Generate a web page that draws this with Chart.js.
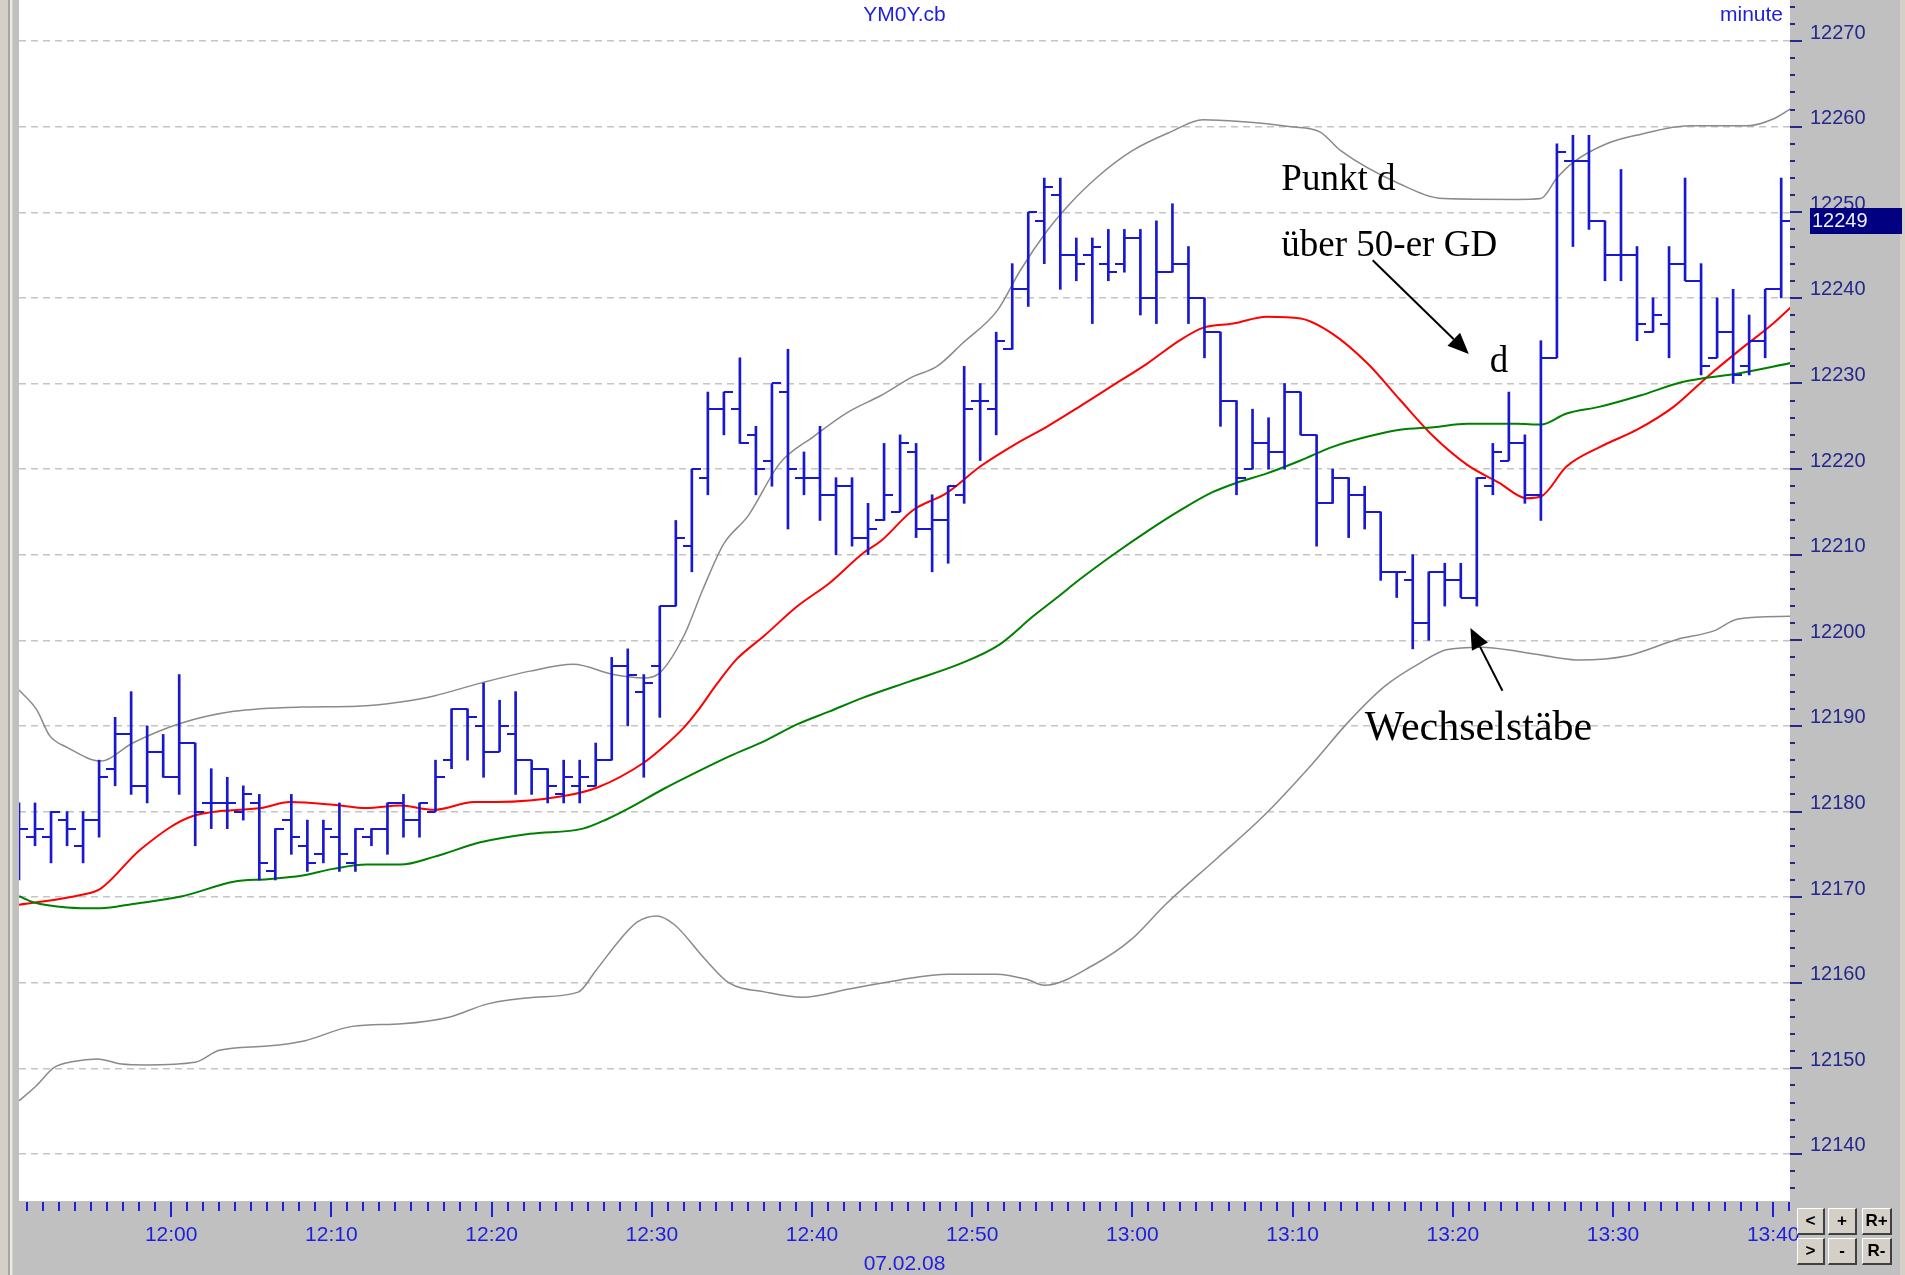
<!DOCTYPE html>
<html>
<head>
<meta charset="utf-8">
<script src="https://cdn.jsdelivr.net/npm/chart.js@4.4.1/dist/chart.umd.min.js"></script>
<style>
  body { margin: 0; background: #c0c0c0; }
  #wrap { position: relative; width: 1905px; height: 1275px; }
  .btn {
    position: absolute; box-sizing: border-box; height: 27px;
    background: #d4d0c8; color: #000;
    border-top: 1px solid #ffffff; border-left: 1px solid #ffffff;
    border-right: 2px solid #404040; border-bottom: 2px solid #404040;
    font: bold 17px "Liberation Sans", Arial, sans-serif;
    text-align: center; line-height: 23px;
  }
</style>
</head>
<body>
<div id="wrap">
  <canvas id="chart" width="1905" height="1275"></canvas>
  <div class="btn" style="left:1797px;top:1208px;width:28px">&lt;</div>
  <div class="btn" style="left:1828px;top:1208px;width:29px">+</div>
  <div class="btn" style="left:1862px;top:1208px;width:30px">R+</div>
  <div class="btn" style="left:1797px;top:1238px;width:28px">&gt;</div>
  <div class="btn" style="left:1828px;top:1238px;width:29px">-</div>
  <div class="btn" style="left:1862px;top:1238px;width:30px">R-</div>
</div>
<script>
const symbol = 'YM0Y.cb';
const period = 'minute';
const sessionDate = '07.02.08';
const firstBar = '11:50'; // start of the first one-minute bar
const timeLabels = ['12:00', '12:10', '12:20', '12:30', '12:40', '12:50',
    '13:00', '13:10', '13:20', '13:30', '13:40'];

// one-minute bars, 11:50 - 13:41
const opens = [12177, 12177, 12177, 12179, 12176, 12179, 12185, 12189, 12183, 12187,
    12184, 12188, 12181, 12181, 12180, 12181, 12173, 12179, 12176, 12175,
    12177, 12174, 12177, 12178, 12181, 12179, 12180, 12186, 12192, 12190,
    12187, 12189, 12186, 12185, 12182, 12183, 12183, 12186, 12197, 12194,
    12197, 12204, 12211, 12219, 12227, 12227, 12224, 12221, 12229, 12219,
    12219, 12217, 12218, 12212, 12214, 12215, 12222, 12213, 12214, 12217,
    12228, 12227, 12234, 12241, 12249, 12252, 12245, 12245, 12244, 12244,
    12247, 12240, 12243, 12244, 12240, 12236, 12228, 12220, 12223, 12222,
    12229, 12224, 12216, 12219, 12217, 12215, 12208, 12207, 12202, 12208,
    12207, 12205, 12218, 12221, 12223, 12217, 12233, 12256, 12256, 12249,
    12245, 12245, 12236, 12237, 12244, 12242, 12233, 12236, 12232, 12235,
    12241];
const highs = [12181, 12181, 12180, 12180, 12180, 12186, 12191, 12194, 12190, 12189,
    12196, 12188, 12185, 12184, 12183, 12182, 12178, 12182, 12179, 12179,
    12181, 12178, 12178, 12181, 12182, 12181, 12186, 12192, 12192, 12195,
    12193, 12194, 12186, 12185, 12186, 12186, 12188, 12198, 12199, 12196,
    12204, 12214, 12220, 12229, 12229, 12233, 12225, 12230, 12234, 12222,
    12225, 12219, 12219, 12216, 12223, 12224, 12223, 12217, 12218, 12232,
    12230, 12236, 12244, 12250, 12254, 12254, 12247, 12247, 12248, 12248,
    12248, 12249, 12251, 12246, 12240, 12236, 12228, 12227, 12226, 12230,
    12229, 12224, 12220, 12219, 12218, 12215, 12208, 12210, 12208, 12209,
    12209, 12219, 12223, 12229, 12224, 12235, 12258, 12259, 12259, 12249,
    12255, 12246, 12240, 12246, 12254, 12244, 12240, 12241, 12238, 12241,
    12254];
const lows = [12172, 12176, 12174, 12176, 12174, 12177, 12183, 12182, 12181, 12184,
    12182, 12176, 12178, 12178, 12179, 12172, 12172, 12175, 12173, 12174,
    12173, 12173, 12176, 12175, 12177, 12177, 12180, 12185, 12186, 12184,
    12187, 12182, 12182, 12181, 12181, 12181, 12183, 12186, 12190, 12184,
    12191, 12204, 12208, 12217, 12224, 12223, 12217, 12218, 12213, 12217,
    12214, 12210, 12211, 12210, 12214, 12215, 12212, 12208, 12209, 12216,
    12221, 12224, 12234, 12239, 12244, 12241, 12242, 12237, 12242, 12243,
    12238, 12237, 12243, 12237, 12233, 12225, 12217, 12220, 12220, 12220,
    12224, 12211, 12216, 12212, 12213, 12207, 12205, 12199, 12200, 12204,
    12205, 12204, 12217, 12221, 12216, 12214, 12233, 12246, 12248, 12242,
    12242, 12235, 12236, 12233, 12242, 12231, 12233, 12230, 12231, 12233,
    12240];
const closes = [12178, 12178, 12180, 12178, 12179, 12184, 12189, 12183, 12187, 12184,
    12188, 12180, 12181, 12181, 12182, 12174, 12178, 12177, 12174, 12178,
    12175, 12178, 12178, 12181, 12179, 12181, 12184, 12192, 12191, 12187,
    12190, 12186, 12185, 12183, 12184, 12184, 12186, 12197, 12196, 12195,
    12204, 12212, 12220, 12227, 12229, 12223, 12220, 12230, 12220, 12219,
    12217, 12218, 12212, 12213, 12217, 12223, 12213, 12214, 12218, 12227,
    12228, 12235, 12241, 12250, 12253, 12245, 12244, 12246, 12243, 12247,
    12240, 12243, 12244, 12240, 12236, 12228, 12219, 12223, 12222, 12229,
    12224, 12216, 12219, 12217, 12215, 12208, 12208, 12202, 12208, 12207,
    12205, 12219, 12222, 12223, 12217, 12233, 12257, 12256, 12249, 12245,
    12245, 12237, 12238, 12244, 12242, 12232, 12236, 12231, 12235, 12241,
    12249];

// indicator lines: [minutes from 12:00, price]
const ma20 = [[-9.5, 12169.1], [-5.5, 12170.3], [-4.4, 12171.0], [-1.9, 12175.6], [1.4, 12179.5],
    [5.6, 12180.4], [7.4, 12181.1], [10.1, 12180.8], [12.2, 12180.4], [14.3, 12180.7],
    [16.4, 12180.2], [18.9, 12181.1], [20.3, 12181.1], [24.5, 12181.8], [26.6, 12182.8],
    [29.5, 12185.7], [30.7, 12187.5], [32.0, 12189.8], [32.8, 12191.6], [34.1, 12195.0],
    [35.3, 12197.8], [37.0, 12200.5], [39.1, 12204.0], [41.1, 12206.7], [43.2, 12210.2],
    [44.3, 12211.6], [46.3, 12215.2], [48.4, 12217.2], [50.5, 12220.3], [52.6, 12222.8],
    [54.7, 12225.0], [56.7, 12227.3], [58.8, 12229.8], [60.9, 12232.3], [63.0, 12235.1],
    [64.4, 12236.5], [66.3, 12237.0], [68.4, 12237.8], [70.5, 12237.6], [72.5, 12235.8],
    [74.7, 12232.3], [76.7, 12228.1], [78.8, 12223.8], [80.9, 12220.5], [82.9, 12218.4],
    [84.6, 12216.6], [85.5, 12216.8], [87.1, 12220.3], [89.2, 12222.6], [91.5, 12224.6],
    [93.8, 12227.3], [95.9, 12230.8], [97.9, 12233.9], [100.0, 12237.0], [101.1, 12238.9]];
const ma50 = [[-9.5, 12170.1], [-8.6, 12169.4], [-6.5, 12168.8], [-4.4, 12168.7], [-2.4, 12169.2],
    [0.7, 12170.1], [3.9, 12171.8], [6.0, 12172.1], [8.1, 12172.5], [10.1, 12173.3],
    [12.2, 12173.8], [14.3, 12173.8], [16.4, 12174.7], [19.3, 12176.4], [22.4, 12177.4],
    [25.7, 12178.0], [27.2, 12179.1], [28.5, 12180.3], [30.7, 12182.6], [32.8, 12184.6],
    [34.9, 12186.5], [37.0, 12188.2], [39.1, 12190.2], [41.1, 12191.7], [43.2, 12193.3],
    [46.1, 12195.2], [49.3, 12197.3], [51.7, 12199.5], [53.8, 12202.8], [55.3, 12205.0],
    [56.7, 12207.1], [58.8, 12210.0], [60.9, 12212.7], [63.0, 12215.2], [65.0, 12217.3],
    [66.5, 12218.4], [68.4, 12219.5], [70.5, 12221.0], [72.5, 12222.6], [74.7, 12223.8],
    [76.7, 12224.6], [78.8, 12224.9], [80.9, 12225.3], [84.0, 12225.3], [85.5, 12225.2],
    [87.1, 12226.5], [89.2, 12227.3], [91.7, 12228.6], [94.4, 12230.2], [97.9, 12231.2],
    [101.1, 12232.4]];
const bandUpper = [[-9.5, 12194.2], [-8.4, 12191.9], [-7.6, 12188.9], [-6.5, 12187.5], [-4.4, 12185.9],
    [-2.4, 12188.0], [0.6, 12190.3], [3.9, 12191.7], [8.1, 12192.2], [11.6, 12192.3],
    [14.3, 12192.8], [16.4, 12193.5], [19.3, 12195.0], [22.4, 12196.4], [25.1, 12197.2],
    [27.6, 12196.0], [29.5, 12195.6], [30.5, 12196.2], [32.0, 12200.5], [33.2, 12206.0],
    [34.5, 12211.3], [36.0, 12214.5], [38.0, 12220.7], [40.1, 12223.8], [42.2, 12226.6],
    [44.3, 12228.6], [46.3, 12230.8], [47.8, 12232.0], [49.4, 12234.7], [51.6, 12238.6],
    [53.0, 12243.2], [54.7, 12247.9], [55.9, 12250.6], [57.8, 12254.1], [60.0, 12257.2],
    [62.4, 12259.4], [64.4, 12260.8], [66.7, 12260.6], [69.9, 12260.0], [71.7, 12259.4],
    [73.0, 12257.2], [76.7, 12253.3], [79.4, 12251.6], [84.0, 12251.5], [85.5, 12251.6],
    [86.5, 12254.0], [87.5, 12255.8], [89.6, 12258.0], [91.7, 12259.1], [94.8, 12260.1],
    [98.4, 12260.1], [100.0, 12260.9], [101.1, 12262.1]];
const bandLower = [[-9.5, 12146.2], [-8.4, 12148.0], [-7.3, 12150.1], [-6.1, 12150.8], [-4.6, 12151.1],
    [-3.1, 12150.5], [-1.6, 12150.4], [1.5, 12150.7], [3.0, 12152.1], [6.0, 12152.6],
    [8.3, 12153.2], [11.3, 12154.9], [14.4, 12155.2], [17.4, 12156.0], [19.7, 12157.5],
    [22.7, 12158.3], [25.4, 12158.9], [26.5, 12161.4], [28.0, 12165.0], [29.1, 12167.1],
    [30.3, 12167.8], [31.4, 12166.8], [33.3, 12162.8], [34.8, 12160.0], [37.1, 12158.9],
    [39.4, 12158.3], [42.4, 12159.3], [45.4, 12160.3], [48.5, 12161.0], [51.5, 12161.0],
    [53.4, 12160.4], [54.5, 12159.7], [57.6, 12162.1], [59.9, 12165.0], [62.1, 12169.2],
    [65.2, 12174.4], [68.2, 12179.5], [71.2, 12185.5], [73.5, 12190.5], [75.8, 12194.7],
    [78.1, 12197.5], [79.6, 12198.9], [81.8, 12199.2], [84.1, 12198.7], [86.4, 12198.0],
    [87.9, 12197.7], [90.9, 12198.2], [94.0, 12200.1], [96.3, 12201.1], [97.8, 12202.5],
    [101.1, 12202.8]];

const barColor = '#1818d0';
const axisBlue = '#1e1ee0';
const axisNavy = '#26268c';
const sans = '"Liberation Sans", Arial, sans-serif';
const serif = '"Liberation Serif", "Times New Roman", serif';

function toMinutes(hhmm) {
    const [h, m] = hhmm.split(':').map(Number);
    return (h - 12) * 60 + m;
}

function fromMinutes(v) {
    const total = 12 * 60 + v;
    return Math.floor(total / 60) + ':' + String(total % 60).padStart(2, '0');
}

const start = toMinutes(firstBar);
const barMid = i => start + i + 0.5;

// little open / close ticks as point images
function tickImage(side) {
    const c = document.createElement('canvas');
    c.width = 18;
    c.height = 2;
    const g = c.getContext('2d');
    g.fillStyle = barColor;
    g.fillRect(side === 'left' ? 0 : 9, 0, 9, 2);
    return c;
}

const frame = {
    id: 'frame',
    beforeDraw(chart) {
        const { ctx, chartArea: a, width, height } = chart;
        ctx.save();
        ctx.fillStyle = '#c0c0c0';
        ctx.fillRect(0, 0, width, height);
        ctx.fillStyle = '#ffffff';
        ctx.fillRect(a.left, 0, a.right - a.left, a.bottom);
        ctx.fillStyle = '#d4d0c8';
        ctx.fillRect(0, 0, 13, height);
        ctx.fillStyle = '#a9a59e';
        ctx.fillRect(8, 0, 2, height);
        ctx.fillStyle = '#ecebe7';
        ctx.fillRect(10, 0, 2, height);
        ctx.fillStyle = '#d4d0c8';
        ctx.fillRect(width - 5, 0, 5, height);
        ctx.restore();
    }
};

const axisMarks = {
    id: 'axisMarks',
    afterDraw(chart) {
        const { ctx, chartArea: a, scales: { x, y } } = chart;
        ctx.save();
        ctx.lineWidth = 2;
        ctx.strokeStyle = axisBlue;
        for (let m = Math.ceil(x.min); m <= x.max; m++) {
            const px = Math.round(x.getPixelForValue(m));
            const len = m % 10 === 0 ? 15 : 9;
            ctx.beginPath();
            ctx.moveTo(px, a.bottom + 1);
            ctx.lineTo(px, a.bottom + 1 + len);
            ctx.stroke();
        }
        ctx.strokeStyle = axisNavy;
        for (let v = Math.ceil(y.min / 2) * 2; v <= y.max; v += 2) {
            const py = Math.round(y.getPixelForValue(v));
            const len = v % 10 === 0 ? 12 : 5;
            ctx.beginPath();
            ctx.moveTo(a.right, py);
            ctx.lineTo(a.right + len, py);
            ctx.stroke();
        }

        // header and date
        const mid = (a.left + a.right) / 2;
        ctx.fillStyle = axisBlue;
        ctx.font = '21px ' + sans;
        ctx.textBaseline = 'alphabetic';
        ctx.textAlign = 'center';
        ctx.fillText(symbol, mid, 21);
        ctx.fillText(sessionDate, mid, 1270);
        ctx.textAlign = 'right';
        ctx.fillText(period, a.right - 7, 21);

        // last price marker
        const last = closes[closes.length - 1];
        const py = y.getPixelForValue(last);
        ctx.fillStyle = '#000080';
        ctx.fillRect(a.right + 20, Math.round(py) - 13, 92, 26);
        ctx.fillStyle = '#f0f0ff';
        ctx.font = '20px ' + sans;
        ctx.textAlign = 'left';
        ctx.textBaseline = 'middle';
        ctx.fillText(String(last), a.right + 22, py + 1);
        ctx.restore();
    }
};

// hand-written notes on the chart, anchored in chart units
const notes = {
    id: 'notes',
    afterDatasetsDraw(chart) {
        const { ctx, scales: { x, y } } = chart;
        const px = t => x.getPixelForValue(t);
        const py = v => y.getPixelForValue(v);

        ctx.save();
        ctx.fillStyle = '#000';
        ctx.textBaseline = 'alphabetic';
        ctx.textAlign = 'left';
        ctx.font = '37px ' + serif;
        ctx.fillText('Punkt d', px(69.3), py(12252.6));
        ctx.fillText('über 50-er GD', px(69.3), py(12244.9));
        ctx.fillText('d', px(82.3), py(12231.4));
        ctx.font = '42px ' + serif;
        ctx.fillText('Wechselstäbe', px(74.5), py(12188.4));

        function arrow(t0, v0, t1, v1) {
            const x0 = px(t0), y0 = py(v0), x1 = px(t1), y1 = py(v1);
            const ang = Math.atan2(y1 - y0, x1 - x0);
            const head = 21, half = 9;
            const bx = x1 - head * Math.cos(ang), by = y1 - head * Math.sin(ang);
            ctx.strokeStyle = '#000';
            ctx.lineWidth = 2;
            ctx.beginPath();
            ctx.moveTo(x0, y0);
            ctx.lineTo(bx, by);
            ctx.stroke();
            ctx.beginPath();
            ctx.moveTo(x1, y1);
            ctx.lineTo(bx + half * Math.sin(ang), by - half * Math.cos(ang));
            ctx.lineTo(bx - half * Math.sin(ang), by + half * Math.cos(ang));
            ctx.closePath();
            ctx.fill();
        }
        arrow(75.0, 12244.4, 81.0, 12233.45);
        arrow(83.1, 12194.1, 81.1, 12201.45);
        ctx.restore();
    }
};

const toXY = pairs => pairs.map(([x, y]) => ({ x, y }));

function lineSet(pairs, color, width) {
    return {
        type: 'line',
        data: toXY(pairs),
        borderColor: color,
        borderWidth: width,
        pointRadius: 0,
        cubicInterpolationMode: 'monotone',
        order: 1
    };
}

new Chart(document.getElementById('chart'), {
    type: 'bar',
    data: {
        datasets: [
            {
                data: highs.map((h, i) => ({ x: barMid(i), y: [lows[i], h] })),
                backgroundColor: barColor,
                barThickness: 2,
                borderWidth: 0,
                order: 0
            },
            {
                type: 'line',
                data: opens.map((o, i) => ({ x: barMid(i), y: o })),
                showLine: false,
                pointStyle: tickImage('left'),
                pointRadius: 5,
                order: 0
            },
            {
                type: 'line',
                data: closes.map((c, i) => ({ x: barMid(i), y: c })),
                showLine: false,
                pointStyle: tickImage('right'),
                pointRadius: 5,
                order: 0
            },
            lineSet(bandUpper, '#8a8a8a', 1.5),
            lineSet(bandLower, '#8a8a8a', 1.5),
            lineSet(ma50, '#008000', 2),
            lineSet(ma20, '#ff0000', 2)
        ]
    },
    options: {
        responsive: false,
        animation: false,
        events: [],
        layout: { autoPadding: false, padding: { left: 19, top: 0, right: 0, bottom: 0 } },
        plugins: {
            legend: { display: false },
            tooltip: { enabled: false }
        },
        scales: {
            x: {
                type: 'linear',
                min: -9.5,
                max: 101.05,
                offset: false,
                grid: { display: false, drawTicks: false },
                border: { display: false },
                ticks: {
                    stepSize: 1,
                    includeBounds: false,
                    autoSkip: false,
                    maxRotation: 0,
                    padding: 22,
                    color: axisBlue,
                    font: { family: sans, size: 21 },
                    callback: v => {
                        const label = fromMinutes(v);
                        return timeLabels.includes(label) ? label : '';
                    }
                },
                afterFit(scale) {
                    scale.height = 74;
                    scale.paddingLeft = 0;
                    scale.paddingRight = 0;
                }
            },
            y: {
                type: 'linear',
                position: 'right',
                min: 12134.5,
                max: 12274.8,
                beginAtZero: false,
                grid: { color: '#c4c4c4', lineWidth: 1.5, drawTicks: false },
                border: { display: false, dash: [7, 5] },
                ticks: {
                    stepSize: 10,
                    includeBounds: false,
                    padding: 20,
                    labelOffset: -8,
                    color: axisNavy,
                    font: { family: sans, size: 20 },
                    callback: v => String(v)
                },
                afterFit(scale) {
                    scale.width = 115;
                    scale.paddingTop = 0;
                    scale.paddingBottom = 0;
                }
            }
        }
    },
    plugins: [frame, axisMarks, notes]
});
</script>
</body>
</html>
